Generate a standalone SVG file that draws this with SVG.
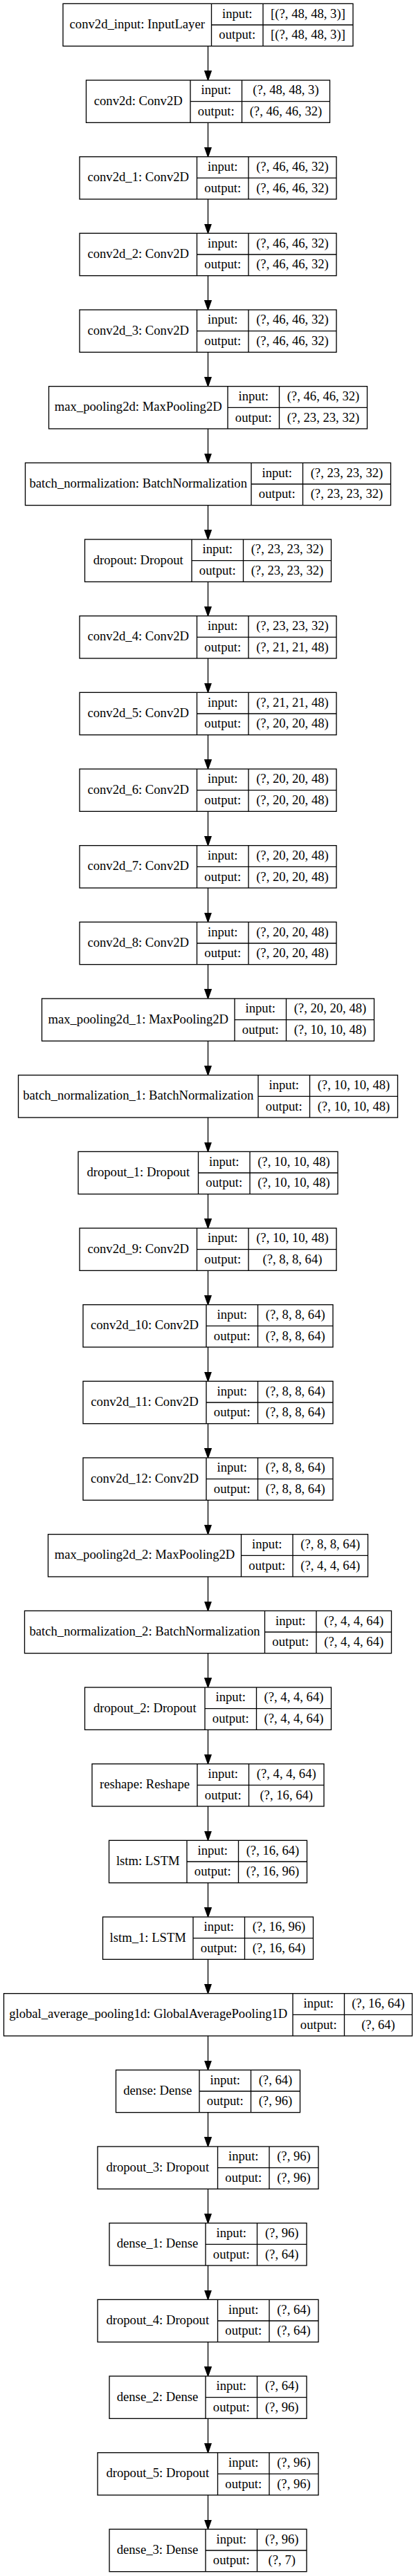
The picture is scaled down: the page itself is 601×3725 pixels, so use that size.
<svg xmlns="http://www.w3.org/2000/svg" width="601" height="3725" viewBox="0 0 601 3725">
<style>
.box{fill:#fff;stroke:#000;stroke-width:1.33}
.div{stroke:#000;stroke-width:1.33;fill:none}
.edge{stroke:#000;stroke-width:1.33;fill:none}
text{font-family:"Liberation Serif","Times New Roman",serif;font-size:18.67px;text-anchor:middle;fill:#000}
</style>
<defs>
<marker id="arr" markerUnits="userSpaceOnUse" markerWidth="16" markerHeight="12" refX="0.5" refY="5.5" orient="auto" viewBox="0 0 16 12">
<path d="M0.5,0.83 L13.83,5.5 L0.5,10.17 Z" fill="#000" stroke="#000" stroke-width="1.33"/>
</marker>
</defs>
<rect x="0" y="0" width="601" height="3725" fill="#fff"/>
<g id="edges">
<line class="edge" marker-end="url(#arr)" x1="300.5" y1="66.67" x2="300.5" y2="102.67"/>
<line class="edge" marker-end="url(#arr)" x1="300.5" y1="177.33" x2="300.5" y2="213.33"/>
<line class="edge" marker-end="url(#arr)" x1="300.5" y1="288" x2="300.5" y2="324"/>
<line class="edge" marker-end="url(#arr)" x1="300.5" y1="398.67" x2="300.5" y2="434.67"/>
<line class="edge" marker-end="url(#arr)" x1="300.5" y1="509.33" x2="300.5" y2="545.33"/>
<line class="edge" marker-end="url(#arr)" x1="300.5" y1="620" x2="300.5" y2="656"/>
<line class="edge" marker-end="url(#arr)" x1="300.5" y1="730.67" x2="300.5" y2="766.67"/>
<line class="edge" marker-end="url(#arr)" x1="300.5" y1="841.33" x2="300.5" y2="877.33"/>
<line class="edge" marker-end="url(#arr)" x1="300.5" y1="952" x2="300.5" y2="988"/>
<line class="edge" marker-end="url(#arr)" x1="300.5" y1="1062.67" x2="300.5" y2="1098.67"/>
<line class="edge" marker-end="url(#arr)" x1="300.5" y1="1173.33" x2="300.5" y2="1209.33"/>
<line class="edge" marker-end="url(#arr)" x1="300.5" y1="1284" x2="300.5" y2="1320"/>
<line class="edge" marker-end="url(#arr)" x1="300.5" y1="1394.67" x2="300.5" y2="1430.67"/>
<line class="edge" marker-end="url(#arr)" x1="300.5" y1="1505.33" x2="300.5" y2="1541.33"/>
<line class="edge" marker-end="url(#arr)" x1="300.5" y1="1616" x2="300.5" y2="1652"/>
<line class="edge" marker-end="url(#arr)" x1="300.5" y1="1726.67" x2="300.5" y2="1762.67"/>
<line class="edge" marker-end="url(#arr)" x1="300.5" y1="1837.33" x2="300.5" y2="1873.33"/>
<line class="edge" marker-end="url(#arr)" x1="300.5" y1="1948" x2="300.5" y2="1984"/>
<line class="edge" marker-end="url(#arr)" x1="300.5" y1="2058.67" x2="300.5" y2="2094.67"/>
<line class="edge" marker-end="url(#arr)" x1="300.5" y1="2169.33" x2="300.5" y2="2205.33"/>
<line class="edge" marker-end="url(#arr)" x1="300.5" y1="2280" x2="300.5" y2="2316"/>
<line class="edge" marker-end="url(#arr)" x1="300.5" y1="2390.67" x2="300.5" y2="2426.67"/>
<line class="edge" marker-end="url(#arr)" x1="300.5" y1="2501.33" x2="300.5" y2="2537.33"/>
<line class="edge" marker-end="url(#arr)" x1="300.5" y1="2612" x2="300.5" y2="2648"/>
<line class="edge" marker-end="url(#arr)" x1="300.5" y1="2722.67" x2="300.5" y2="2758.67"/>
<line class="edge" marker-end="url(#arr)" x1="300.5" y1="2833.33" x2="300.5" y2="2869.33"/>
<line class="edge" marker-end="url(#arr)" x1="300.5" y1="2944" x2="300.5" y2="2980"/>
<line class="edge" marker-end="url(#arr)" x1="300.5" y1="3054.67" x2="300.5" y2="3090.67"/>
<line class="edge" marker-end="url(#arr)" x1="300.5" y1="3165.33" x2="300.5" y2="3201.33"/>
<line class="edge" marker-end="url(#arr)" x1="300.5" y1="3276" x2="300.5" y2="3312"/>
<line class="edge" marker-end="url(#arr)" x1="300.5" y1="3386.67" x2="300.5" y2="3422.67"/>
<line class="edge" marker-end="url(#arr)" x1="300.5" y1="3497.33" x2="300.5" y2="3533.33"/>
<line class="edge" marker-end="url(#arr)" x1="300.5" y1="3608" x2="300.5" y2="3644"/>
</g>

<g id="conv2d_input" transform="translate(0,5.33)">
<rect class="box" x="91" y="0" width="419" height="61.33"/>
<path class="div" d="M305.5,0V61.33M380,0V61.33M305.5,30.67H510"/>
<text x="198.25" y="35.6">conv2d_input: InputLayer</text>
<text x="342.75" y="20.27">input:</text><text x="342.75" y="50.93">output:</text>
<text x="445" y="20.27">[(?, 48, 48, 3)]</text><text x="445" y="50.93">[(?, 48, 48, 3)]</text>
</g>

<g id="conv2d" transform="translate(0,116)">
<rect class="box" x="124.5" y="0" width="352" height="61.33"/>
<path class="div" d="M275,0V61.33M349.5,0V61.33M275,30.67H476.5"/>
<text x="199.75" y="35.6">conv2d: Conv2D</text>
<text x="312.25" y="20.27">input:</text><text x="312.25" y="50.93">output:</text>
<text x="413" y="20.27">(?, 48, 48, 3)</text><text x="413" y="50.93">(?, 46, 46, 32)</text>
</g>

<g id="conv2d_1" transform="translate(0,226.67)">
<rect class="box" x="115" y="0" width="371" height="61.33"/>
<path class="div" d="M284.5,0V61.33M359,0V61.33M284.5,30.67H486"/>
<text x="199.75" y="35.6">conv2d_1: Conv2D</text>
<text x="321.75" y="20.27">input:</text><text x="321.75" y="50.93">output:</text>
<text x="422.5" y="20.27">(?, 46, 46, 32)</text><text x="422.5" y="50.93">(?, 46, 46, 32)</text>
</g>

<g id="conv2d_2" transform="translate(0,337.33)">
<rect class="box" x="115" y="0" width="371" height="61.33"/>
<path class="div" d="M284.5,0V61.33M359,0V61.33M284.5,30.67H486"/>
<text x="199.75" y="35.6">conv2d_2: Conv2D</text>
<text x="321.75" y="20.27">input:</text><text x="321.75" y="50.93">output:</text>
<text x="422.5" y="20.27">(?, 46, 46, 32)</text><text x="422.5" y="50.93">(?, 46, 46, 32)</text>
</g>

<g id="conv2d_3" transform="translate(0,448)">
<rect class="box" x="115" y="0" width="371" height="61.33"/>
<path class="div" d="M284.5,0V61.33M359,0V61.33M284.5,30.67H486"/>
<text x="199.75" y="35.6">conv2d_3: Conv2D</text>
<text x="321.75" y="20.27">input:</text><text x="321.75" y="50.93">output:</text>
<text x="422.5" y="20.27">(?, 46, 46, 32)</text><text x="422.5" y="50.93">(?, 46, 46, 32)</text>
</g>

<g id="max_pooling2d" transform="translate(0,558.67)">
<rect class="box" x="70.5" y="0" width="460" height="61.33"/>
<path class="div" d="M329,0V61.33M403.5,0V61.33M329,30.67H530.5"/>
<text x="199.75" y="35.6">max_pooling2d: MaxPooling2D</text>
<text x="366.25" y="20.27">input:</text><text x="366.25" y="50.93">output:</text>
<text x="467" y="20.27">(?, 46, 46, 32)</text><text x="467" y="50.93">(?, 23, 23, 32)</text>
</g>

<g id="batch_normalization" transform="translate(0,669.33)">
<rect class="box" x="36.5" y="0" width="528" height="61.33"/>
<path class="div" d="M363,0V61.33M437.5,0V61.33M363,30.67H564.5"/>
<text x="199.75" y="35.6">batch_normalization: BatchNormalization</text>
<text x="400.25" y="20.27">input:</text><text x="400.25" y="50.93">output:</text>
<text x="501" y="20.27">(?, 23, 23, 32)</text><text x="501" y="50.93">(?, 23, 23, 32)</text>
</g>

<g id="dropout" transform="translate(0,780)">
<rect class="box" x="122.5" y="0" width="356" height="61.33"/>
<path class="div" d="M277,0V61.33M351.5,0V61.33M277,30.67H478.5"/>
<text x="199.75" y="35.6">dropout: Dropout</text>
<text x="314.25" y="20.27">input:</text><text x="314.25" y="50.93">output:</text>
<text x="415" y="20.27">(?, 23, 23, 32)</text><text x="415" y="50.93">(?, 23, 23, 32)</text>
</g>

<g id="conv2d_4" transform="translate(0,890.67)">
<rect class="box" x="115" y="0" width="371" height="61.33"/>
<path class="div" d="M284.5,0V61.33M359,0V61.33M284.5,30.67H486"/>
<text x="199.75" y="35.6">conv2d_4: Conv2D</text>
<text x="321.75" y="20.27">input:</text><text x="321.75" y="50.93">output:</text>
<text x="422.5" y="20.27">(?, 23, 23, 32)</text><text x="422.5" y="50.93">(?, 21, 21, 48)</text>
</g>

<g id="conv2d_5" transform="translate(0,1001.33)">
<rect class="box" x="115" y="0" width="371" height="61.33"/>
<path class="div" d="M284.5,0V61.33M359,0V61.33M284.5,30.67H486"/>
<text x="199.75" y="35.6">conv2d_5: Conv2D</text>
<text x="321.75" y="20.27">input:</text><text x="321.75" y="50.93">output:</text>
<text x="422.5" y="20.27">(?, 21, 21, 48)</text><text x="422.5" y="50.93">(?, 20, 20, 48)</text>
</g>

<g id="conv2d_6" transform="translate(0,1112)">
<rect class="box" x="115" y="0" width="371" height="61.33"/>
<path class="div" d="M284.5,0V61.33M359,0V61.33M284.5,30.67H486"/>
<text x="199.75" y="35.6">conv2d_6: Conv2D</text>
<text x="321.75" y="20.27">input:</text><text x="321.75" y="50.93">output:</text>
<text x="422.5" y="20.27">(?, 20, 20, 48)</text><text x="422.5" y="50.93">(?, 20, 20, 48)</text>
</g>

<g id="conv2d_7" transform="translate(0,1222.67)">
<rect class="box" x="115" y="0" width="371" height="61.33"/>
<path class="div" d="M284.5,0V61.33M359,0V61.33M284.5,30.67H486"/>
<text x="199.75" y="35.6">conv2d_7: Conv2D</text>
<text x="321.75" y="20.27">input:</text><text x="321.75" y="50.93">output:</text>
<text x="422.5" y="20.27">(?, 20, 20, 48)</text><text x="422.5" y="50.93">(?, 20, 20, 48)</text>
</g>

<g id="conv2d_8" transform="translate(0,1333.33)">
<rect class="box" x="115" y="0" width="371" height="61.33"/>
<path class="div" d="M284.5,0V61.33M359,0V61.33M284.5,30.67H486"/>
<text x="199.75" y="35.6">conv2d_8: Conv2D</text>
<text x="321.75" y="20.27">input:</text><text x="321.75" y="50.93">output:</text>
<text x="422.5" y="20.27">(?, 20, 20, 48)</text><text x="422.5" y="50.93">(?, 20, 20, 48)</text>
</g>

<g id="max_pooling2d_1" transform="translate(0,1444)">
<rect class="box" x="60.5" y="0" width="480" height="61.33"/>
<path class="div" d="M339,0V61.33M413.5,0V61.33M339,30.67H540.5"/>
<text x="199.75" y="35.6">max_pooling2d_1: MaxPooling2D</text>
<text x="376.25" y="20.27">input:</text><text x="376.25" y="50.93">output:</text>
<text x="477" y="20.27">(?, 20, 20, 48)</text><text x="477" y="50.93">(?, 10, 10, 48)</text>
</g>

<g id="batch_normalization_1" transform="translate(0,1554.67)">
<rect class="box" x="26.5" y="0" width="548" height="61.33"/>
<path class="div" d="M373,0V61.33M447.5,0V61.33M373,30.67H574.5"/>
<text x="199.75" y="35.6">batch_normalization_1: BatchNormalization</text>
<text x="410.25" y="20.27">input:</text><text x="410.25" y="50.93">output:</text>
<text x="511" y="20.27">(?, 10, 10, 48)</text><text x="511" y="50.93">(?, 10, 10, 48)</text>
</g>

<g id="dropout_1" transform="translate(0,1665.33)">
<rect class="box" x="113" y="0" width="375" height="61.33"/>
<path class="div" d="M286.5,0V61.33M361,0V61.33M286.5,30.67H488"/>
<text x="199.75" y="35.6">dropout_1: Dropout</text>
<text x="323.75" y="20.27">input:</text><text x="323.75" y="50.93">output:</text>
<text x="424.5" y="20.27">(?, 10, 10, 48)</text><text x="424.5" y="50.93">(?, 10, 10, 48)</text>
</g>

<g id="conv2d_9" transform="translate(0,1776)">
<rect class="box" x="115" y="0" width="371" height="61.33"/>
<path class="div" d="M284.5,0V61.33M359,0V61.33M284.5,30.67H486"/>
<text x="199.75" y="35.6">conv2d_9: Conv2D</text>
<text x="321.75" y="20.27">input:</text><text x="321.75" y="50.93">output:</text>
<text x="422.5" y="20.27">(?, 10, 10, 48)</text><text x="422.5" y="50.93">(?, 8, 8, 64)</text>
</g>

<g id="conv2d_10" transform="translate(0,1886.67)">
<rect class="box" x="120" y="0" width="361" height="61.33"/>
<path class="div" d="M298,0V61.33M372.5,0V61.33M298,30.67H481"/>
<text x="209" y="35.6">conv2d_10: Conv2D</text>
<text x="335.25" y="20.27">input:</text><text x="335.25" y="50.93">output:</text>
<text x="426.75" y="20.27">(?, 8, 8, 64)</text><text x="426.75" y="50.93">(?, 8, 8, 64)</text>
</g>

<g id="conv2d_11" transform="translate(0,1997.33)">
<rect class="box" x="120" y="0" width="361" height="61.33"/>
<path class="div" d="M298,0V61.33M372.5,0V61.33M298,30.67H481"/>
<text x="209" y="35.6">conv2d_11: Conv2D</text>
<text x="335.25" y="20.27">input:</text><text x="335.25" y="50.93">output:</text>
<text x="426.75" y="20.27">(?, 8, 8, 64)</text><text x="426.75" y="50.93">(?, 8, 8, 64)</text>
</g>

<g id="conv2d_12" transform="translate(0,2108)">
<rect class="box" x="120" y="0" width="361" height="61.33"/>
<path class="div" d="M298,0V61.33M372.5,0V61.33M298,30.67H481"/>
<text x="209" y="35.6">conv2d_12: Conv2D</text>
<text x="335.25" y="20.27">input:</text><text x="335.25" y="50.93">output:</text>
<text x="426.75" y="20.27">(?, 8, 8, 64)</text><text x="426.75" y="50.93">(?, 8, 8, 64)</text>
</g>

<g id="max_pooling2d_2" transform="translate(0,2218.67)">
<rect class="box" x="69.5" y="0" width="462" height="61.33"/>
<path class="div" d="M348.5,0V61.33M423,0V61.33M348.5,30.67H531.5"/>
<text x="209" y="35.6">max_pooling2d_2: MaxPooling2D</text>
<text x="385.75" y="20.27">input:</text><text x="385.75" y="50.93">output:</text>
<text x="477.25" y="20.27">(?, 8, 8, 64)</text><text x="477.25" y="50.93">(?, 4, 4, 64)</text>
</g>

<g id="batch_normalization_2" transform="translate(0,2329.33)">
<rect class="box" x="35.5" y="0" width="530" height="61.33"/>
<path class="div" d="M382.5,0V61.33M457,0V61.33M382.5,30.67H565.5"/>
<text x="209" y="35.6">batch_normalization_2: BatchNormalization</text>
<text x="419.75" y="20.27">input:</text><text x="419.75" y="50.93">output:</text>
<text x="511.25" y="20.27">(?, 4, 4, 64)</text><text x="511.25" y="50.93">(?, 4, 4, 64)</text>
</g>

<g id="dropout_2" transform="translate(0,2440)">
<rect class="box" x="122.5" y="0" width="356" height="61.33"/>
<path class="div" d="M296,0V61.33M370.5,0V61.33M296,30.67H478.5"/>
<text x="209.25" y="35.6">dropout_2: Dropout</text>
<text x="333.25" y="20.27">input:</text><text x="333.25" y="50.93">output:</text>
<text x="424.5" y="20.27">(?, 4, 4, 64)</text><text x="424.5" y="50.93">(?, 4, 4, 64)</text>
</g>

<g id="reshape" transform="translate(0,2550.67)">
<rect class="box" x="133" y="0" width="335" height="61.33"/>
<path class="div" d="M285,0V61.33M359.5,0V61.33M285,30.67H468"/>
<text x="209" y="35.6">reshape: Reshape</text>
<text x="322.25" y="20.27">input:</text><text x="322.25" y="50.93">output:</text>
<text x="413.75" y="20.27">(?, 4, 4, 64)</text><text x="413.75" y="50.93">(?, 16, 64)</text>
</g>

<g id="lstm" transform="translate(0,2661.33)">
<rect class="box" x="157.5" y="0" width="286" height="61.33"/>
<path class="div" d="M270,0V61.33M344.5,0V61.33M270,30.67H443.5"/>
<text x="213.75" y="35.6">lstm: LSTM</text>
<text x="307.25" y="20.27">input:</text><text x="307.25" y="50.93">output:</text>
<text x="394" y="20.27">(?, 16, 64)</text><text x="394" y="50.93">(?, 16, 96)</text>
</g>

<g id="lstm_1" transform="translate(0,2772)">
<rect class="box" x="148.5" y="0" width="304" height="61.33"/>
<path class="div" d="M279,0V61.33M353.5,0V61.33M279,30.67H452.5"/>
<text x="213.75" y="35.6">lstm_1: LSTM</text>
<text x="316.25" y="20.27">input:</text><text x="316.25" y="50.93">output:</text>
<text x="403" y="20.27">(?, 16, 96)</text><text x="403" y="50.93">(?, 16, 64)</text>
</g>

<g id="global_average_pooling1d" transform="translate(0,2882.67)">
<rect class="box" x="5.5" y="0" width="590" height="61.33"/>
<path class="div" d="M423,0V61.33M497.5,0V61.33M423,30.67H595.5"/>
<text x="214.25" y="35.6">global_average_pooling1d: GlobalAveragePooling1D</text>
<text x="460.25" y="20.27">input:</text><text x="460.25" y="50.93">output:</text>
<text x="546.5" y="20.27">(?, 16, 64)</text><text x="546.5" y="50.93">(?, 64)</text>
</g>

<g id="dense" transform="translate(0,2993.33)">
<rect class="box" x="167.5" y="0" width="266" height="61.33"/>
<path class="div" d="M288,0V61.33M362.5,0V61.33M288,30.67H433.5"/>
<text x="227.75" y="35.6">dense: Dense</text>
<text x="325.25" y="20.27">input:</text><text x="325.25" y="50.93">output:</text>
<text x="398" y="20.27">(?, 64)</text><text x="398" y="50.93">(?, 96)</text>
</g>

<g id="dropout_3" transform="translate(0,3104)">
<rect class="box" x="141" y="0" width="319" height="61.33"/>
<path class="div" d="M314.5,0V61.33M389,0V61.33M314.5,30.67H460"/>
<text x="227.75" y="35.6">dropout_3: Dropout</text>
<text x="351.75" y="20.27">input:</text><text x="351.75" y="50.93">output:</text>
<text x="424.5" y="20.27">(?, 96)</text><text x="424.5" y="50.93">(?, 96)</text>
</g>

<g id="dense_1" transform="translate(0,3214.67)">
<rect class="box" x="158" y="0" width="285" height="61.33"/>
<path class="div" d="M297,0V61.33M371.5,0V61.33M297,30.67H443"/>
<text x="227.5" y="35.6">dense_1: Dense</text>
<text x="334.25" y="20.27">input:</text><text x="334.25" y="50.93">output:</text>
<text x="407.25" y="20.27">(?, 96)</text><text x="407.25" y="50.93">(?, 64)</text>
</g>

<g id="dropout_4" transform="translate(0,3325.33)">
<rect class="box" x="141" y="0" width="319" height="61.33"/>
<path class="div" d="M314.5,0V61.33M389,0V61.33M314.5,30.67H460"/>
<text x="227.75" y="35.6">dropout_4: Dropout</text>
<text x="351.75" y="20.27">input:</text><text x="351.75" y="50.93">output:</text>
<text x="424.5" y="20.27">(?, 64)</text><text x="424.5" y="50.93">(?, 64)</text>
</g>

<g id="dense_2" transform="translate(0,3436)">
<rect class="box" x="158" y="0" width="285" height="61.33"/>
<path class="div" d="M297,0V61.33M371.5,0V61.33M297,30.67H443"/>
<text x="227.5" y="35.6">dense_2: Dense</text>
<text x="334.25" y="20.27">input:</text><text x="334.25" y="50.93">output:</text>
<text x="407.25" y="20.27">(?, 64)</text><text x="407.25" y="50.93">(?, 96)</text>
</g>

<g id="dropout_5" transform="translate(0,3546.67)">
<rect class="box" x="141" y="0" width="319" height="61.33"/>
<path class="div" d="M314.5,0V61.33M389,0V61.33M314.5,30.67H460"/>
<text x="227.75" y="35.6">dropout_5: Dropout</text>
<text x="351.75" y="20.27">input:</text><text x="351.75" y="50.93">output:</text>
<text x="424.5" y="20.27">(?, 96)</text><text x="424.5" y="50.93">(?, 96)</text>
</g>

<g id="dense_3" transform="translate(0,3657.33)">
<rect class="box" x="158" y="0" width="285" height="61.33"/>
<path class="div" d="M297,0V61.33M371.5,0V61.33M297,30.67H443"/>
<text x="227.5" y="35.6">dense_3: Dense</text>
<text x="334.25" y="20.27">input:</text><text x="334.25" y="50.93">output:</text>
<text x="407.25" y="20.27">(?, 96)</text><text x="407.25" y="50.93">(?, 7)</text>
</g>
</svg>
